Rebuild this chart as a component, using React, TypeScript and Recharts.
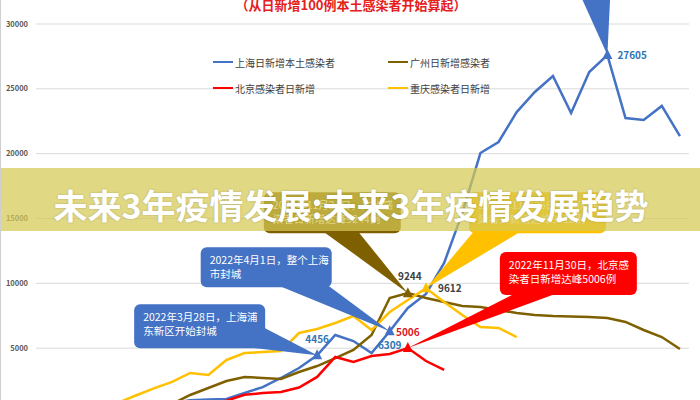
import React from "react";
import {
  LineChart,
  Line,
  XAxis,
  YAxis,
  CartesianGrid,
  ReferenceDot,
  Legend,
} from "recharts";

// day index counted from the day each city first hit 100 new local cases
const days = Array.from({ length: 36 }, (_, i) => i);

const shanghai = [
  100, 150, 210, 270, 350, 450, 580, 760, 980, 1050, 1080, 1540, 2000, 2700,
  3470, 4456, 6015, 5550, 4627, 6309, 8100, 9177, 11570, 15420, 20050, 20900,
  23210, 24760, 25990, 23140, 26300, 27605, 22750, 22600, 23680, 21360,
];
const guangzhou = [
  100, 140, 190, 250, 330, 420, 540, 700, 1390, 1930, 2470, 2780, 2700, 2620,
  3160, 3620, 4240, 4860, 6015, 8870, 9244, 8870, 8560, 8250, 8175, 7940, 7710,
  7560, 7480, 7440, 7400, 7330, 7020, 6400, 5860, 4940,
];
const beijing = [
  100, 130, 170, 220, 280, 350, 430, 520, 620, 740, 950, 1400, 1540, 1620,
  1960, 2780, 4320, 3930, 4400, 4550, 5006, 4010, 3320,
];
const chongqing = [
  100, 200, 330, 520, 770, 1350, 1900, 2400, 3085, 2930, 4090, 4630, 4700,
  4780, 6170, 6480, 6940, 7480, 6400, 7790, 8715, 9612, 8560, 7560, 6630, 6555,
  5860,
];

// the 0 line falls just below the visible picture
const yTicks = [5000, 10000, 15000, 20000, 25000, 30000];

const names = {
  sh: "上海日新增本土感染者",
  gz: "广州日新增感染者",
  bj: "北京感染者日新增",
  cq: "重庆感染者日新增",
};
// legend grid, row by row
const legendOrder = ["sh", "gz", "bj", "cq"];

const data = days.map((d) => ({
  day: d,
  sh: shanghai[d],
  gz: guangzhou[d],
  bj: beijing[d],
  cq: chongqing[d],
}));

const seriesByKey: Record<string, number[]> = {
  sh: shanghai,
  gz: guangzhou,
  bj: beijing,
  cq: chongqing,
};

const BLUE = "#4472C4";
const OLIVE = "#7F6000";
const RED = "#FF0000";
const GOLD = "#FFC000";
const FONT = "'Noto Sans CJK SC', 'Noto Sans', sans-serif";

// callouts: box / wedge offsets are relative to the annotated point
const notes = [
  {
    key: "sh", idx: 15, color: BLUE,
    lines: ["2022年3月28日，上海浦", "东新区开始封城"],
    box: [-183, -51, 131, 44], base: [[-54, -28], [-78, -9]],
    label: "4456", labelColor: "#2E75B6", ldx: 0, ldy: -12, anchor: "middle",
  },
  {
    key: "sh", idx: 19, color: BLUE,
    lines: ["2022年4月1日，整个上海", "市封城"],
    box: [-189, -84, 131, 40], base: [[-112, -46], [-62, -46]],
    label: "6309", labelColor: "#2E75B6", ldx: 0, ldy: 18, anchor: "middle",
  },
  {
    key: "gz", idx: 20, color: OLIVE,
    lines: ["2022年11月24日，广州感", "染者日新增达峰9244例"],
    box: [-144, -101, 137, 41], base: [[-85, -62], [-50, -62]],
    label: "9244", labelColor: "#404040", ldx: 2, ldy: -13, anchor: "middle",
  },
  {
    key: "cq", idx: 21, color: GOLD,
    lines: ["2022年11月25日，重庆感", "染者日新增达峰9612例"],
    box: [43, -96, 137, 41], base: [[48, -57], [95, -57]],
    label: "9612", labelColor: "#404040", ldx: 12, ldy: 4, anchor: "start",
  },
  {
    key: "bj", idx: 20, color: RED,
    lines: ["2022年11月30日，北京感", "染者日新增达峰5006例"],
    box: [92, -96, 137, 43], base: [[108, -55], [150, -55]],
    label: "5006", labelColor: "#E0161B", ldx: 0, ldy: -12, anchor: "middle",
  },
  {
    // its box sits above the top of the picture
    key: "sh", idx: 31, color: BLUE,
    lines: [],
    box: [-90, -105, 137, 45], base: [[-28, -62], [3, -62]],
    label: "27605", labelColor: "#2E75B6", ldx: 10, ldy: 4, anchor: "start",
  },
];

function Callout(props: any) {
  const { cx, cy, note } = props;
  if (cx == null || cy == null) return null;
  const [bx, by, bw, bh] = note.box;
  const [p1, p2] = note.base;
  const wedge = `M${cx + p1[0]},${cy + p1[1]} L${cx},${cy} L${cx + p2[0]},${cy + p2[1]} Z`;
  return (
    <g>
      <rect x={cx + bx} y={cy + by} width={bw} height={bh} rx={6} fill={note.color} />
      <path d={wedge} fill={note.color} />
      <path
        d={`M${cx},${cy - 6} L${cx - 5},${cy + 4} L${cx + 5},${cy + 4} Z`}
        fill={note.color}
      />
      {note.lines.map((t: string, i: number) => (
        <text
          key={i}
          x={cx + bx + 9}
          y={cy + by + 17 + i * 14}
          fill="#fff"
          fontSize={10.5}
          fontFamily={FONT}
        >
          {t}
        </text>
      ))}
      <text
        x={cx + note.ldx}
        y={cy + note.ldy}
        textAnchor={note.anchor}
        fill={note.labelColor}
        fontSize={10}
        fontWeight="bold"
        fontFamily={FONT}
      >
        {note.label}
      </text>
    </g>
  );
}

function renderLegend(props: any) {
  const items = [...(props.payload || [])].sort(
    (a: any, b: any) => legendOrder.indexOf(a.dataKey) - legendOrder.indexOf(b.dataKey)
  );
  return (
    <div
      style={{
        display: "grid",
        gridTemplateColumns: "175px 130px",
        fontFamily: FONT,
      }}
    >
      {items.map((p: any) => (
        <div
          key={p.value}
          style={{ display: "flex", alignItems: "center", height: 26, fontSize: 10, color: "#404040" }}
        >
          <span style={{ display: "inline-block", width: 20, height: 2.5, background: p.color, marginRight: 2 }} />
          {p.value}
        </div>
      ))}
    </div>
  );
}

export default function App() {
  return (
    <div
      style={{
        position: "absolute",
        left: 0,
        top: 0,
        width: 700,
        height: 400,
        overflow: "hidden",
        background: "#fff",
        borderLeft: "1px solid #cfcfcf",
        boxSizing: "border-box",
      }}
    >
      <div
        style={{
          position: "absolute",
          top: -4,
          left: 0,
          width: 700,
          textAlign: "center",
          color: "#E5201B",
          fontWeight: "bold",
          fontSize: 13,
          fontFamily: FONT,
          lineHeight: "18px",
        }}
      >
        （从日新增100例本土感染者开始算起）
      </div>
      <LineChart
        width={700}
        height={420}
        data={data}
        margin={{ top: 24, right: 12, bottom: 7, left: 0 }}
      >
        <CartesianGrid horizontal vertical={false} stroke="#D9D9D9" />
        <XAxis dataKey="day" type="number" domain={[-0.5, 35.5]} hide />
        <YAxis
          width={35}
          domain={[0, 30000]}
          ticks={yTicks}
          axisLine={false}
          tickLine={false}
          tick={{ fontSize: 7.5, fontWeight: "bold", fill: "#595959", fontFamily: FONT }}
        />
        <Legend
          layout="horizontal"
          verticalAlign="middle"
          align="center"
          wrapperStyle={{ left: 212, top: 49, width: 310 }}
          content={renderLegend}
        />
        <Line dataKey="sh" name={names.sh} stroke={BLUE} strokeWidth={2.5} dot={false} isAnimationActive={false} />
        <Line dataKey="gz" name={names.gz} stroke={OLIVE} strokeWidth={2.5} dot={false} isAnimationActive={false} />
        <Line dataKey="bj" name={names.bj} stroke={RED} strokeWidth={2.5} dot={false} isAnimationActive={false} />
        <Line dataKey="cq" name={names.cq} stroke={GOLD} strokeWidth={2.5} dot={false} isAnimationActive={false} />
        {notes.map((n, i) => (
          <ReferenceDot
            key={i}
            x={n.idx}
            y={seriesByKey[n.key][n.idx]}
            r={0}
            ifOverflow="visible"
            shape={(p: any) => <Callout {...p} note={n} />}
          />
        ))}
      </LineChart>
      <div
        style={{
          position: "absolute",
          top: 168,
          left: 0,
          width: 700,
          height: 63,
          background: "rgba(214, 201, 84, 0.72)",
        }}
      />
      <div
        style={{
          position: "absolute",
          top: 179,
          left: 0,
          width: 700,
          height: 52,
          lineHeight: "52px",
          textAlign: "center",
          color: "#fff",
          fontWeight: "bold",
          fontSize: 34,
          fontFamily: FONT,
          textShadow: "0 0 2px rgba(0,0,0,0.25)",
          whiteSpace: "nowrap",
        }}
      >
        未来3年疫情发展:未来3年疫情发展趋势
      </div>
    </div>
  );
}
